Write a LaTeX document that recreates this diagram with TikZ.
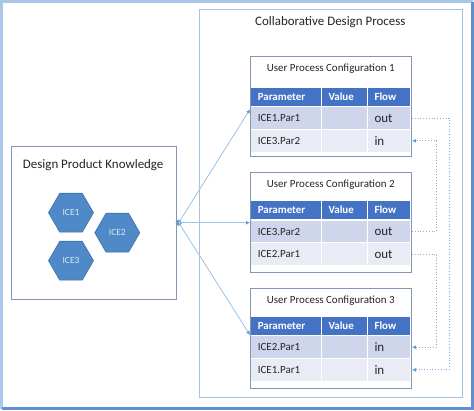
\documentclass[tikz,border=0pt]{standalone}
\usepackage{fontspec}
\setmainfont{Carlito}
\usetikzlibrary{shapes.geometric,arrows.meta}
\definecolor{hdrblue}{HTML}{4472C4}
\definecolor{rowdark}{HTML}{CFD5EA}
\definecolor{rowlight}{HTML}{E9EBF5}
\definecolor{txtdark}{HTML}{262626}
\definecolor{boxline}{HTML}{8497B0}
\definecolor{outerline}{HTML}{A7C2E0}
\definecolor{framelight}{HTML}{A9C8E8}
\definecolor{framedark}{HTML}{5E8FD0}
\definecolor{hexfill}{HTML}{4F89C7}
\definecolor{hexdraw}{HTML}{3E6FA6}
\definecolor{hextext}{HTML}{DCE8F6}
\definecolor{linkline}{HTML}{9DC3E6}
\definecolor{tipblue}{HTML}{5B9BD5}
\definecolor{dotblue}{HTML}{8FAADC}
\tikzset{
  cellbase/.style={anchor=north west, inner xsep=6.5bp, inner ysep=0pt, outer sep=0pt,
    align=left, font=\fontsize{11}{12}\selectfont, text=txtdark},
  hdrcell/.style={cellbase, fill=hdrblue, text=white, font=\fontsize{11}{12}\selectfont\bfseries, minimum height=18.3bp},
  rowAcell/.style={cellbase, fill=rowdark, minimum height=21.6bp},
  rowBcell/.style={cellbase, fill=rowlight, minimum height=21.7bp},
  pcol/.style={text width=56.7bp},
  vcol/.style={text width=32bp},
  fcol/.style={text width=29bp},
  flowtxt/.style={font=\fontsize{13}{14}\selectfont},
  upcbox/.style={draw=boxline, line width=0.8bp, fill=white, minimum width=161.3bp,
    minimum height=100bp, anchor=north west, inner sep=0pt, outer sep=0pt},
  upctitle/.style={font=\fontsize{11}{12}\selectfont, text=txtdark, inner sep=0pt},
  bigbox/.style={draw=outerline, line width=0.8bp, anchor=north west, inner sep=0pt, outer sep=0pt},
  dpkbox/.style={draw=boxline, line width=0.8bp, anchor=north west, inner sep=0pt, outer sep=0pt},
  hexa/.style={regular polygon, regular polygon sides=6, minimum size=45bp, inner sep=0pt,
    fill=hexfill, draw=hexdraw, line width=0.6bp, text=hextext, font=\fontsize{9.5}{10}\selectfont},
  linkarrow/.style={draw=linkline, line width=0.8bp, -{Latex[length=4bp,width=4bp,fill=tipblue,color=tipblue]}},
  dotlink/.style={draw=dotblue, line width=0.8bp, dotted, -{Latex[length=4bp,width=4bp,fill=tipblue,color=tipblue]}},
}
% #1 name, #2 box top, #3 header top, #4 title, #5 p1, #6 f1, #7 p2, #8 f2
\newcommand\upcTable[8]{%
  \node[upcbox] (#1) at (250,#2) {};
  \node[upctitle] (#1t) at (330.7,#2+12.3) {#4};
  \node[hdrcell, pcol] (#1hp) at (251.3,#3) {Parameter};
  \node[hdrcell, vcol] (#1hv) at (322,#3) {Value};
  \node[hdrcell, fcol] (#1hf) at (368,#3) {Flow};
  \node[rowAcell, pcol] (#1pa) at (251.3,#3+19.7) {#5};
  \node[rowAcell, vcol] (#1va) at (322,#3+19.7) {};
  \node[rowAcell, fcol, flowtxt] (#1fa) at (368,#3+19.7) {#6};
  \node[rowBcell, pcol] (#1pb) at (251.3,#3+42.3) {#7};
  \node[rowBcell, vcol] (#1vb) at (322,#3+42.3) {};
  \node[rowBcell, fcol, flowtxt] (#1fb) at (368,#3+42.3) {#8};
}
\begin{document}
\begin{tikzpicture}[x=1bp,y=-1bp]
\useasboundingbox (0,0) rectangle (474,410);
\fill[white] (0,0) rectangle (474,410);
% outer frame
\draw[framelight, line width=3bp] (1.5,408.5) -- (1.5,1.5) -- (472.5,1.5);
\draw[framedark, line width=3bp] (472.5,1.5) -- (472.5,408.5) -- (1.5,408.5);
% collaborative design process box
\node[bigbox, minimum width=263.4bp, minimum height=388bp] (cdp) at (199.3,9.3) {};
\node[font=\fontsize{13}{14}\selectfont, text=txtdark, inner sep=0pt] (cdpt) at (330.3,22.3) {Collaborative Design Process};
% design product knowledge box
\node[dpkbox, minimum width=165bp, minimum height=152.6bp] (dpk) at (11.7,146.7) {};
\node[font=\fontsize{13}{14}\selectfont, text=txtdark, inner sep=0pt] (dpkt) at (93.2,165) {Design Product Knowledge};
\node[hexa] (ice1) at (71,212.7) {ICE1};
\node[hexa] (ice2) at (117.3,232.7) {ICE2};
\node[hexa] (ice3) at (71,260.7) {ICE3};
% configurations
\upcTable{ua}{56.7}{87.7}{User Process Configuration 1}{ICE1.Par1}{out}{ICE3.Par2}{in}
\upcTable{ub}{172.7}{201}{User Process Configuration 2}{ICE3.Par2}{out}{ICE2.Par1}{out}
\upcTable{uc}{288.3}{316.7}{User Process Configuration 3}{ICE2.Par1}{in}{ICE1.Par1}{in}
% connectors from knowledge box
\coordinate (ina) at (250,109.3);
\coordinate (inb) at (250,222.7);
\coordinate (inc) at (250,335);
\node[circle, fill=tipblue, minimum size=6bp, inner sep=0pt] (src) at (178.7,222.7) {};
\draw[linkarrow] (src.center) -- (ina);
\draw[linkarrow] (src.center) -- (inb);
\draw[linkarrow] (src.center) -- (inc);
\draw[dpkbox] (dpk.north east) -- (dpk.south east);
% dotted flow connectors
\draw[dotlink] ([xshift=2bp]uafa.east) -- ++(37bp,0) |- ([xshift=2bp]ucfb.east);
\draw[dotlink] ([xshift=2bp]ubfa.east) -- ++(24.5bp,0) |- ([xshift=2bp]uafb.east);
\draw[dotlink] ([xshift=2bp]ubfb.east) -- ++(24.5bp,0) |- ([xshift=2bp]ucfa.east);
\end{tikzpicture}
\end{document}
